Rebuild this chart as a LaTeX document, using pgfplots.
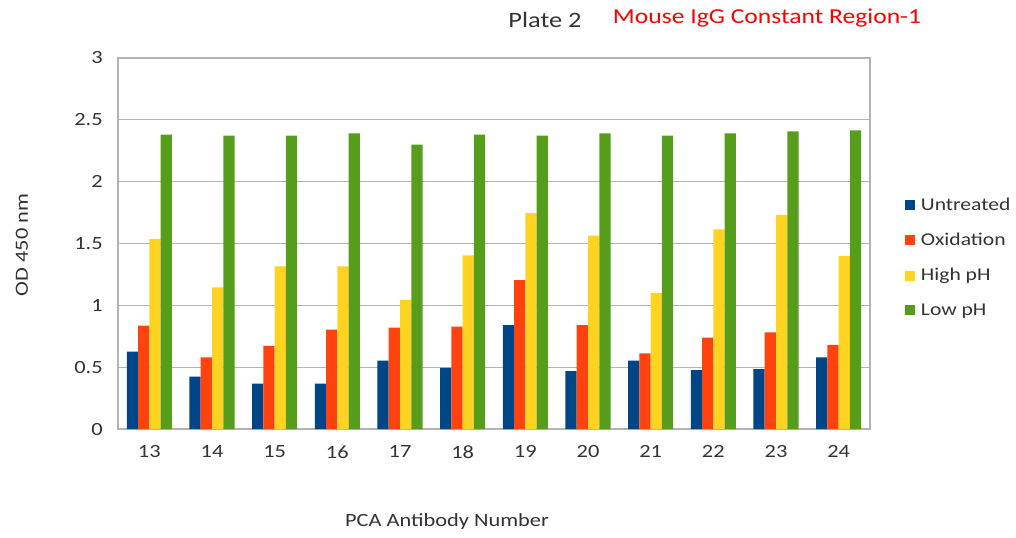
\documentclass[border=0pt]{standalone}
\usepackage{fontspec}
\setmainfont{Carlito}[FakeStretch=1.2]
\usepackage{pgfplots}
\pgfplotsset{compat=1.18}
\definecolor{cBlue}{HTML}{004586}
\definecolor{cRed}{HTML}{FF420E}
\definecolor{cYellow}{HTML}{FFD320}
\definecolor{cGreen}{HTML}{579D1C}
\definecolor{gridgray}{HTML}{B3B3B3}
\definecolor{txtgray}{HTML}{333333}
\newcommand{\pxc}[2]{({(#1-118)*0.75},{(429-#2)*0.75})}
\begin{document}
\begin{tikzpicture}[x=1pt,y=1pt]
\path[use as bounding box] (-88.5,-81) rectangle (673.5,321.75);
\begin{axis}[
  at={(0,0)}, anchor=south west, scale only axis,
  width=564pt, height=278.25pt,
  ybar=0pt, bar width=0.18,
  xmin=-0.5, xmax=11.5, ymin=0, ymax=3,
  xtick={0,1,2,3,4,5,6,7,8,9,10,11},
  xticklabels={13,14,15,16,17,18,19,20,21,22,23,24},
  ytick={0,0.5,1,1.5,2,2.5,3},
  ymajorgrids,
  major grid style={gridgray, line width=0.8pt},
  axis line style={gridgray, line width=0.8pt},
  major tick length=0pt,
  tick label style={font=\fontsize{14}{16}\selectfont, text=txtgray},
  /pgf/number format/assume math mode=true,
  yticklabel style={/pgf/number format/fixed},
  xticklabel shift=9pt,
  yticklabel shift=8pt,
  legend style={at={(1,0.462)}, anchor=west, xshift=26pt, draw=none, fill=none,
    inner sep=0pt, row sep=11.5pt, font=\fontsize{13.5}{16}\selectfont, text=txtgray,
    legend cell align=left},
  legend image code/.code={\fill[#1] (0pt,-3.75pt) rectangle (7.5pt,3.75pt); \path (0pt,0pt) -- (10pt,0pt);},
]
\addplot[fill=cBlue, draw=none] coordinates {(0,0.626) (1,0.423) (2,0.367) (3,0.367) (4,0.553) (5,0.494) (6,0.841) (7,0.469) (8,0.553) (9,0.477) (10,0.485) (11,0.580)};
\addplot[fill=cRed, draw=none] coordinates {(0,0.836) (1,0.580) (2,0.672) (3,0.804) (4,0.820) (5,0.828) (6,1.203) (7,0.841) (8,0.612) (9,0.739) (10,0.782) (11,0.680)};
\addplot[fill=cYellow, draw=none] coordinates {(0,1.537) (1,1.146) (2,1.316) (3,1.316) (4,1.044) (5,1.405) (6,1.745) (7,1.564) (8,1.100) (9,1.615) (10,1.731) (11,1.400)};
\addplot[fill=cGreen, draw=none] coordinates {(0,2.381) (1,2.373) (2,2.373) (3,2.390) (4,2.300) (5,2.381) (6,2.373) (7,2.390) (8,2.373) (9,2.390) (10,2.406) (11,2.414)};
\legend{Untreated, Oxidation, High pH, Low pH}
\end{axis}
\node[font=\fontsize{16.5}{19}\selectfont, text=txtgray] at \pxc{545}{20} {Plate 2};
\node[font=\fontsize{16}{19}\selectfont, text=red] at \pxc{767}{18} {Mouse IgG Constant Region-1};
\node[font=\fontsize{14}{16}\selectfont, text=txtgray] at \pxc{447}{522} {PCA Antibody Number};
\node[font=\fontsize{14}{16}\selectfont, text=txtgray, rotate=90] at \pxc{22}{245} {OD 450 nm};
\end{tikzpicture}
\end{document}
